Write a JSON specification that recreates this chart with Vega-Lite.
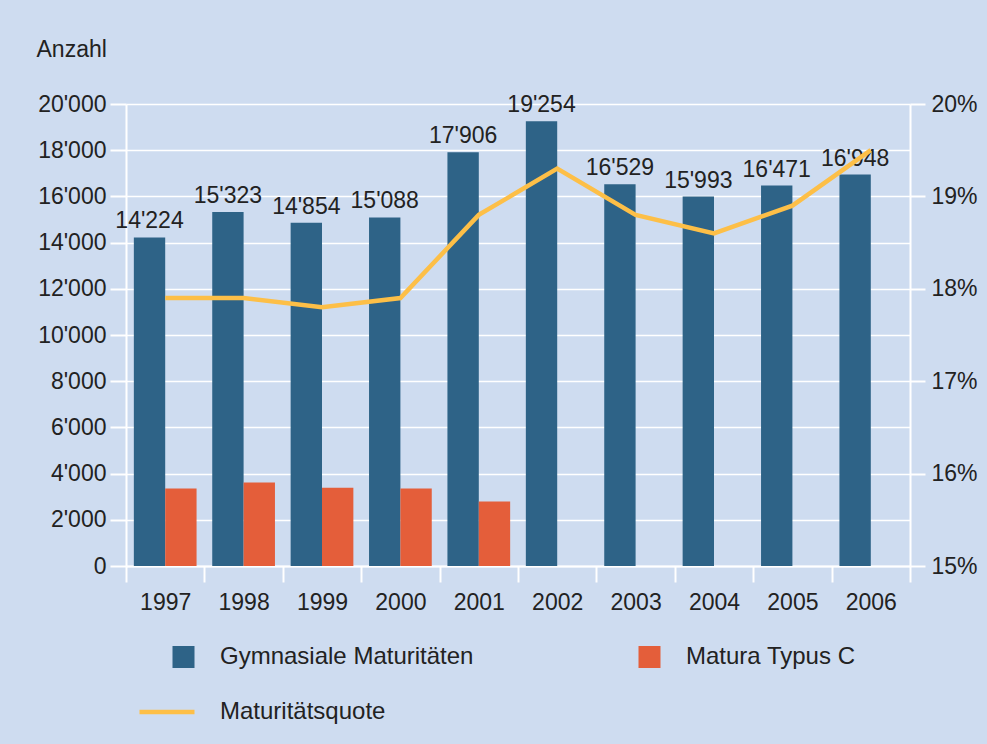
{
  "$schema": "https://vega.github.io/schema/vega-lite/v6.json",
  "width": 784,
  "height": 462,
  "autosize": {"type": "none"},
  "padding": {"left": 126, "top": 104, "right": 77, "bottom": 178},
  "background": "#cedcf0",
  "config": {
    "locale": {"number": {"decimal": ".", "thousands": "'", "grouping": [3], "currency": ["", ""]}},
    "view": {"stroke": null},
    "font": "Liberation Sans",
    "text": {"font": "Liberation Sans"}
  },
  "datasets": {
    "bars": [
      {"year": "1997", "series": "Gymnasiale Maturitäten", "value": 14224},
      {"year": "1998", "series": "Gymnasiale Maturitäten", "value": 15323},
      {"year": "1999", "series": "Gymnasiale Maturitäten", "value": 14854},
      {"year": "2000", "series": "Gymnasiale Maturitäten", "value": 15088},
      {"year": "2001", "series": "Gymnasiale Maturitäten", "value": 17906},
      {"year": "2002", "series": "Gymnasiale Maturitäten", "value": 19254},
      {"year": "2003", "series": "Gymnasiale Maturitäten", "value": 16529},
      {"year": "2004", "series": "Gymnasiale Maturitäten", "value": 15993},
      {"year": "2005", "series": "Gymnasiale Maturitäten", "value": 16471},
      {"year": "2006", "series": "Gymnasiale Maturitäten", "value": 16948},
      {"year": "1997", "series": "Matura Typus C", "value": 3350},
      {"year": "1998", "series": "Matura Typus C", "value": 3610},
      {"year": "1999", "series": "Matura Typus C", "value": 3390},
      {"year": "2000", "series": "Matura Typus C", "value": 3350},
      {"year": "2001", "series": "Matura Typus C", "value": 2790}
    ],
    "quote": [
      {"year": "1997", "quote": 17.9},
      {"year": "1998", "quote": 17.9},
      {"year": "1999", "quote": 17.8},
      {"year": "2000", "quote": 17.9},
      {"year": "2001", "quote": 18.8},
      {"year": "2002", "quote": 19.3},
      {"year": "2003", "quote": 18.8},
      {"year": "2004", "quote": 18.6},
      {"year": "2005", "quote": 18.9},
      {"year": "2006", "quote": 19.5}
    ]
  },
  "encoding": {
    "x": {
      "field": "year",
      "type": "nominal",
      "scale": {"paddingInner": 0, "paddingOuter": 0},
      "axis": {
        "orient": "bottom",
        "title": null,
        "labelAngle": 0,
        "tickBand": "extent",
        "tickSize": 16,
        "tickWidth": 2,
        "tickColor": "white",
        "domainColor": "white",
        "domainWidth": 2,
        "labelPadding": 9,
        "labelFontSize": 23,
        "labelColor": "#222222",
        "labelFont": "Liberation Sans",
        "grid": false
      }
    }
  },
  "layer": [
    {
      "data": {"name": "bars"},
      "encoding": {
        "y": {
          "field": "value",
          "type": "quantitative",
          "scale": {"domain": [0, 20000], "nice": false},
          "axis": {
            "values": [0, 2000, 4000, 6000, 8000, 10000, 12000, 14000, 16000, 18000, 20000],
            "labelExpr": "format(datum.value, ',')",
            "grid": true,
            "gridColor": "white",
            "gridWidth": 1.5,
            "domainColor": "white",
            "domainWidth": 2,
            "tickColor": "white",
            "tickSize": 16,
            "tickWidth": 2,
            "labelPadding": 4,
            "labelFontSize": 23,
            "labelColor": "#222222",
            "labelFont": "Liberation Sans",
            "title": "Anzahl",
            "titleAngle": 0,
            "titleAlign": "left",
            "titleBaseline": "middle",
            "titleX": -90,
            "titleY": -55,
            "titleFontSize": 23,
            "titleFontWeight": "normal",
            "titleColor": "#222222",
            "titleFont": "Liberation Sans"
          }
        }
      },
      "layer": [
        {
          "mark": {"type": "bar"},
          "encoding": {
            "xOffset": {
              "field": "series",
              "type": "nominal",
              "scale": {"domain": ["Gymnasiale Maturitäten", "Matura Typus C"], "paddingInner": 0, "paddingOuter": 0.25}
            },
            "color": {
              "field": "series",
              "type": "nominal",
              "scale": {
                "domain": ["Gymnasiale Maturitäten", "Matura Typus C", "Maturitätsquote"],
                "range": ["#2e6387", "#e45e3a", "#fdbf47"]
              },
              "legend": {
                "orient": "none",
                "direction": "horizontal",
                "legendX": 29,
                "legendY": 541,
                "columns": 2,
                "columnPadding": 147,
                "rowPadding": 31,
                "title": null,
                "padding": 0,
                "symbolSize": 3025,
                "symbolStrokeWidth": 0,
                "symbolOpacity": 1,
                "labelOffset": 41,
                "labelFontSize": 24,
                "labelColor": "#222222",
                "labelFont": "Liberation Sans",
                "labelLimit": 400,
                "encode": {
                  "symbols": {
                    "update": {
                      "shape": {"signal": "datum.value === 'Maturitätsquote' ? 'stroke' : 'M0.2,-0.4L1,-0.4L1,0.4L0.2,0.4Z'"},
                      "stroke": {"signal": "datum.value === 'Maturitätsquote' ? '#fdbf47' : 'transparent'"},
                      "strokeWidth": {"signal": "datum.value === 'Maturitätsquote' ? 4.5 : 0"}
                    }
                  }
                }
              }
            }
          }
        },
        {
          "transform": [{"filter": "datum.series === 'Gymnasiale Maturitäten'"}],
          "mark": {"type": "text", "baseline": "alphabetic", "dy": -9, "fontSize": 23, "color": "#222222", "font": "Liberation Sans"},
          "encoding": {
            "xOffset": {
              "field": "series",
              "type": "nominal",
              "scale": {"domain": ["Gymnasiale Maturitäten", "Matura Typus C"], "paddingInner": 0, "paddingOuter": 0.25}
            },
            "text": {"field": "value", "type": "quantitative", "format": ","}
          }
        }
      ]
    },
    {
      "data": {"name": "quote"},
      "mark": {"type": "line", "color": "#fdbf47", "strokeWidth": 4.5},
      "encoding": {
        "y": {
          "field": "quote",
          "type": "quantitative",
          "scale": {"domain": [15, 20], "nice": false, "zero": false},
          "axis": {
            "orient": "right",
            "values": [15, 16, 17, 18, 19, 20],
            "labelExpr": "datum.value + '%'",
            "grid": false,
            "domainColor": "white",
            "domainWidth": 2,
            "tickColor": "white",
            "tickSize": 15,
            "tickWidth": 2,
            "labelPadding": 6,
            "labelFontSize": 23,
            "labelColor": "#222222",
            "labelFont": "Liberation Sans",
            "title": null
          }
        }
      }
    }
  ],
  "resolve": {"scale": {"y": "independent"}}
}
